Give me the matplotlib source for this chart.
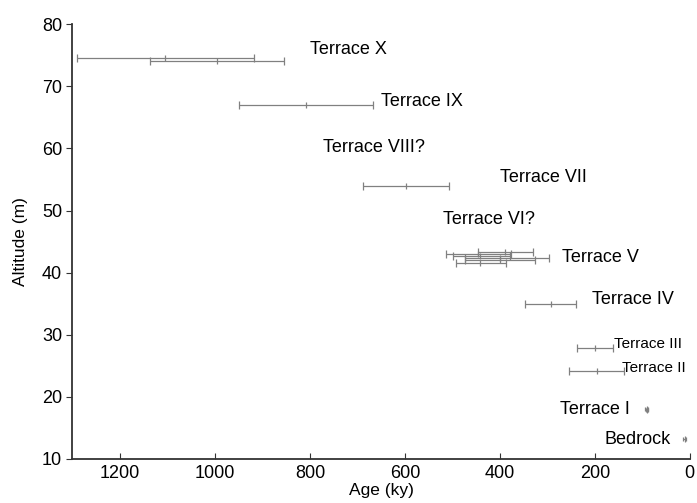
import matplotlib
matplotlib.use("Agg")
import matplotlib.pyplot as plt

plt.rcParams["font.family"] = ["Liberation Sans", "DejaVu Sans"]

# dated samples: centre age, lower/upper age bounds (ky), altitude (m)
age = [1105, 996, 808, 598, 389, 446, 442, 400, 400, 441, 293, 199, 196, 91, 90, 11]
age_min = [918, 855, 668, 507, 331, 377, 379, 296, 326, 387, 240, 162, 139, 88, 87, 8]
age_max = [1291, 1137, 949, 689, 446, 514, 498, 474, 474, 493, 346, 238, 254, 94, 93, 14]
alt = [74.5, 74.0, 67.0, 54.0, 43.4, 43.0, 42.6, 42.3, 42.0, 41.6, 35.0, 27.8, 24.2, 18.1, 17.9, 13.2]

labels = ["Terrace X", "Terrace IX", "Terrace VIII?", "Terrace VII", "Terrace VI?",
          "Terrace V", "Terrace IV", "Terrace III", "Terrace II", "Terrace I", "Bedrock"]
label_age = [800, 650, 773, 400, 520, 269, 206, 160, 143, 274, 179]
label_alt = [75.9, 67.5, 60.2, 55.3, 48.6, 42.5, 35.6, 28.5, 24.7, 18.0, 13.2]
label_size = [13, 13, 13, 13, 13, 13, 13, 11, 11, 13, 13]

fig = plt.figure(figsize=(6.97, 5.03), dpi=100)
ax = fig.add_axes([0.104, 0.0875, 0.8856, 0.8645])

xerr = [[a - lo for a, lo in zip(age, age_min)], [hi - a for a, hi in zip(age, age_max)]]
n = 13  # the last three samples have very small errors, drawn with tiny caps
style = dict(fmt="|", color="#808080", ecolor="#808080", elinewidth=0.9,
             capthick=0.9, markersize=5, markeredgewidth=0.9)
ax.errorbar(age[:n], alt[:n], xerr=[xerr[0][:n], xerr[1][:n]], capsize=3, **style)
ax.errorbar(age[n:], alt[n:], xerr=[xerr[0][n:], xerr[1][n:]], capsize=1.5, **style)

for t, x, y, s in zip(labels, label_age, label_alt, label_size):
    ax.text(x, y, t, fontsize=s, ha="left", va="center")

ax.set_xlim(1300, 0)
ax.set_ylim(10, 80)
ax.set_xticks([1200, 1000, 800, 600, 400, 200, 0])
ax.set_yticks(range(10, 81, 10))
ax.spines["top"].set_visible(False)
ax.spines["right"].set_visible(False)
for sp in ("left", "bottom"):
    ax.spines[sp].set_linewidth(1.3)
    ax.spines[sp].set_color("#333333")
ax.tick_params(axis="x", direction="in", length=4, labelsize=13, color="#333333", pad=4)
ax.tick_params(axis="y", direction="out", length=4, labelsize=13, color="#333333")
ax.set_xlabel("Age (ky)", fontsize=12.5, labelpad=1)
ax.set_ylabel("Altitude (m)", fontsize=12.5, labelpad=10)

fig.savefig("out.png", dpi=100)
